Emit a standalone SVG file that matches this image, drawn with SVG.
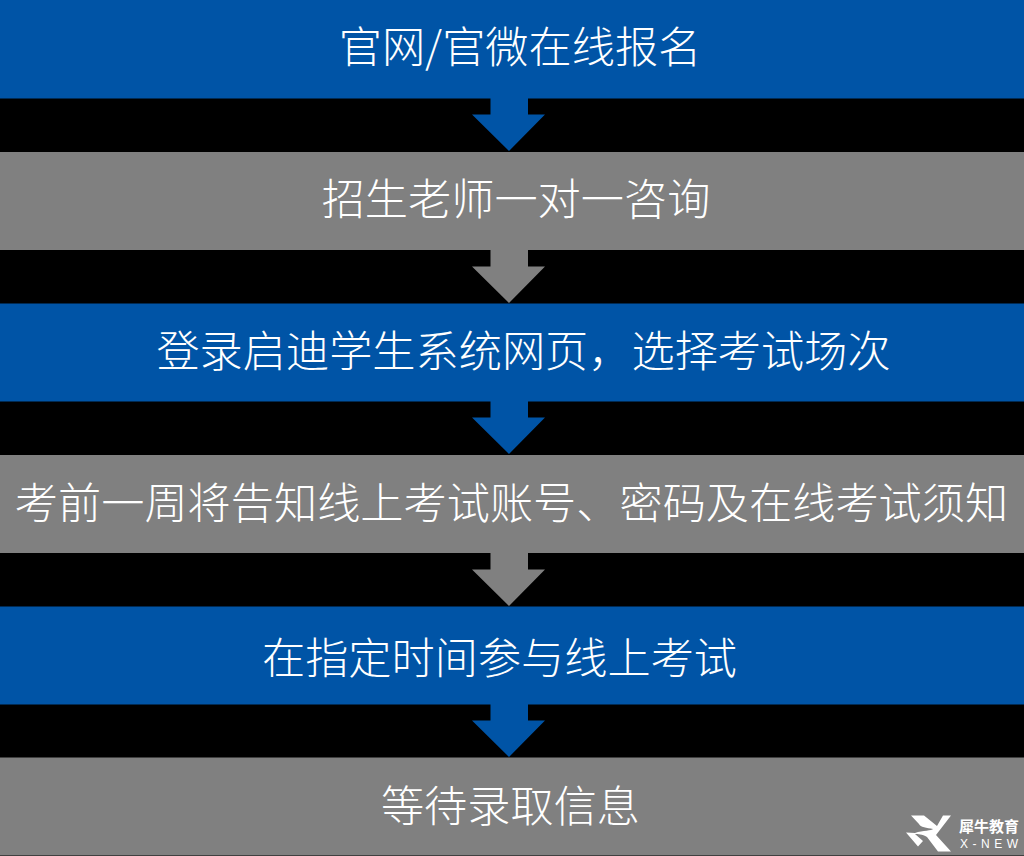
<svg xmlns="http://www.w3.org/2000/svg" width="1024" height="856" viewBox="0 0 1024 856">
<style>
.blue{fill:#0054a6}
.gray{fill:#808080}
text{font-family:"Noto Sans CJK SC","Liberation Sans",sans-serif;fill:#fff}
.t{font-size:43.2px;text-anchor:middle;font-weight:300}
</style>
<defs>
<path id="arrow" d="M490.500 0H528V16.500H545L509 53L472 16.500H490.500Z"/>
</defs>
<rect width="1024" height="856" fill="#000"/>
<g id="node1"><rect class="blue" y="0" width="1024" height="98.500"/><text class="t" x="520" y="63">官网/官微在线报名</text></g>
<g id="node2"><rect class="gray" y="152" width="1024" height="98"/><text class="t" x="516" y="215">招生老师一对一咨询</text></g>
<g id="node3"><rect class="blue" y="303.500" width="1024" height="98"/><text class="t" x="523.500" y="367">登录启迪学生系统网页，选择考试场次</text></g>
<g id="node4"><rect class="gray" y="455" width="1024" height="98"/><text class="t" x="511.500" y="519">考前一周将告知线上考试账号、密码及在线考试须知</text></g>
<g id="node5"><rect class="blue" y="606.500" width="1024" height="98"/><text class="t" x="499.500" y="674">在指定时间参与线上考试</text></g>
<g id="node6"><rect class="gray" y="757.500" width="1024" height="98"/><text class="t" x="510.500" y="822">等待录取信息</text></g>
<g id="connectors">
<use href="#arrow" class="blue" y="98"/>
<use href="#arrow" class="gray" y="250"/>
<use href="#arrow" class="blue" y="401"/>
<use href="#arrow" class="gray" y="553"/>
<use href="#arrow" class="blue" y="704"/>
</g>
<g id="logo">
<path fill="#fff" d="M911 815.500H924L937 826L943 815.500H951L936 835L951 851.500H938L927 837C922 834 918 834 915 834L923 841L918 846.500L906 832.500L915 833C923 830 932 831 933 829C927 828 920 827 919 824Z"/>
<text x="959" y="831.500" font-size="15" font-weight="700" textLength="60">犀牛教育</text>
<text x="960" y="848" font-size="12" textLength="58" style="font-family:'Liberation Sans',sans-serif">X-NEW</text>
</g>
</svg>
